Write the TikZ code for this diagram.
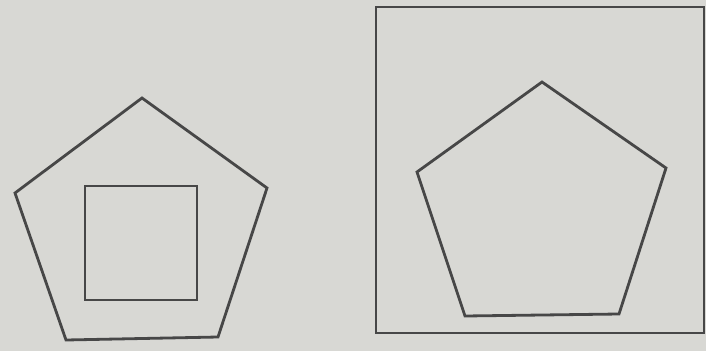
\documentclass[tikz,border=0pt]{standalone}
\begin{document}
\begin{tikzpicture}[x=1pt,y=-1pt,
  shape line/.style={draw=black!72, line width=2.8pt, line join=miter}]
\definecolor{paper}{RGB}{216,216,212}
\fill[paper] (0,0) rectangle (706,351);
\useasboundingbox (0,0) rectangle (706,351);
% left figure: pentagon with square inside
\coordinate (lp1) at (142,98);
\coordinate (lp2) at (267,188);
\coordinate (lp3) at (218,337);
\coordinate (lp4) at (66,340);
\coordinate (lp5) at (15,193);
\draw[shape line] (lp1) -- (lp2) -- (lp3) -- (lp4) -- (lp5) -- cycle;
\coordinate (ls1) at (85,186);
\coordinate (ls2) at (197,300);
\draw[shape line] (ls1) rectangle (ls2);
% right figure: square with pentagon inside
\coordinate (rs1) at (376,7);
\coordinate (rs2) at (704,333);
\draw[shape line] (rs1) rectangle (rs2);
\coordinate (rp1) at (542,82);
\coordinate (rp2) at (666,168);
\coordinate (rp3) at (619,314);
\coordinate (rp4) at (465,316);
\coordinate (rp5) at (417,172);
\draw[shape line] (rp1) -- (rp2) -- (rp3) -- (rp4) -- (rp5) -- cycle;
\end{tikzpicture}
\end{document}
